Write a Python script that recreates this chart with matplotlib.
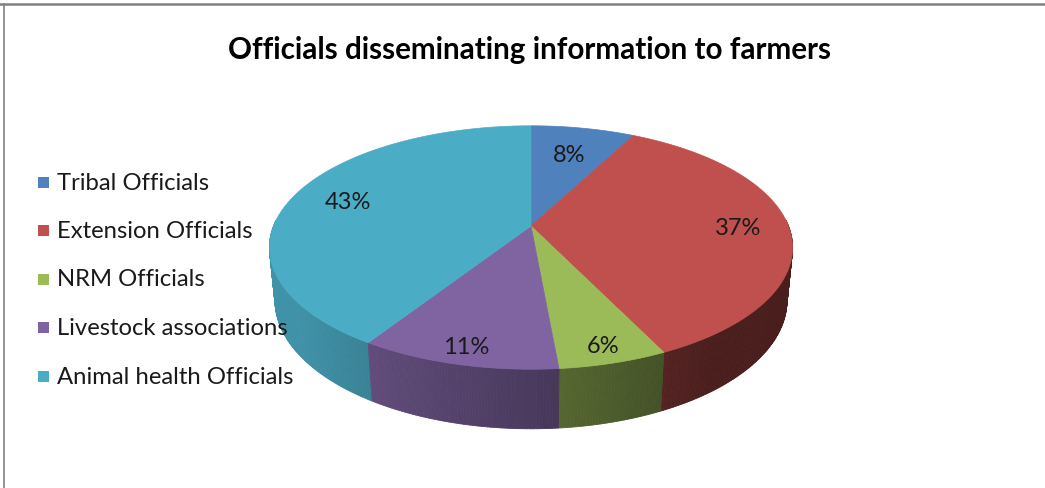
import numpy as np
import matplotlib
matplotlib.use("Agg")
import matplotlib.pyplot as plt
from matplotlib.collections import PolyCollection
from matplotlib.patches import Polygon, Rectangle
from matplotlib.lines import Line2D
from matplotlib.colors import to_rgb

# ---- data ----
categories = ["Tribal Officials", "Extension Officials", "NRM Officials",
              "Livestock associations", "Animal health Officials"]
shares = [8, 37, 6, 11, 43]
colors = ["#4F81BD", "#C0504D", "#9BBB59", "#8064A2", "#4BACC6"]
title = "Officials disseminating information to farmers"

# ---- figure in pixel-like data coordinates ----
W, H = 1045, 489
fig = plt.figure(figsize=(W / 100, H / 100), dpi=100)
ax = fig.add_axes([0, 0, 1, 1])
ax.set_xlim(0, W)
ax.set_ylim(H, 0)
ax.axis("off")

# ---- perspective camera for the 3D pie ----
cx, cy = 531.0, 227.0          # screen position of the pie centre
focal = 1295.0
dist = 5.03
tilt = np.arcsin(0.458)
s_t, c_t = np.sin(tilt), np.cos(tilt)
thick = 0.233


def project(x, y, z):
    depth = dist + y * c_t - z * s_t
    u = focal * x / depth
    v = focal * (y * s_t + z * c_t) / depth
    return cx + u, cy - v


def rim(a, z=0.0, r=1.0):
    return project(r * np.sin(a), r * np.cos(a), z)


fractions = np.array(shares, dtype=float) / np.sum(shares)
bounds = np.concatenate([[0], np.cumsum(fractions)]) * 2 * np.pi


def shade(base, xpos):
    k = np.clip(0.58 - 0.33 * xpos, 0.38, 0.85)
    return tuple(np.array(to_rgb(base)) * k)


# side wall strips, painted far-to-near
quads, qcols, qdepth = [], [], []
for i, col in enumerate(colors):
    a_s = np.linspace(bounds[i], bounds[i + 1], max(4, int(shares[i] * 6)))
    for a0, a1 in zip(a_s[:-1], a_s[1:]):
        am = 0.5 * (a0 + a1)
        if np.cos(am) > 0.05:
            continue
        p0 = rim(a0); p1 = rim(a1)
        p2 = rim(a1, -thick); p3 = rim(a0, -thick)
        quads.append([p0, p1, p2, p3])
        qcols.append(shade(col, np.sin(am)))
        qdepth.append(np.cos(am))
order = np.argsort(qdepth)[::-1]
side = PolyCollection([quads[j] for j in order],
                      facecolors=[qcols[j] for j in order],
                      edgecolors=[qcols[j] for j in order], linewidths=0.6)
ax.add_collection(side)

# top faces
for i, col in enumerate(colors):
    a_s = np.linspace(bounds[i], bounds[i + 1], max(8, int(shares[i] * 8)))
    pts = [(cx, cy)] + [rim(a) for a in a_s]
    ax.add_patch(Polygon(pts, closed=True, facecolor=col, edgecolor=col,
                         linewidth=0.5))

# percentage labels
for i in range(len(shares)):
    am = 0.5 * (bounds[i] + bounds[i + 1])
    ex, ey = rim(am)
    frac = 0.8 - 0.075 * np.cos(am)
    lx = cx + frac * (ex - cx)
    ly = cy + frac * (ey - cy)
    ax.text(lx, ly, f"{shares[i]}%", ha="center", va="center",
            fontsize=17, family="Lato", color="#1a1a1a")

# title
ax.text(530, 50, title, ha="center", va="center", fontsize=21.3,
        family="Lato", fontweight="bold", color="black")

# legend
for i, (lab, col) in enumerate(zip(categories, colors)):
    yy = 183 + i * 48.5
    ax.add_patch(Rectangle((38, yy - 5.5), 11, 11, facecolor=col,
                           edgecolor="none"))
    ax.text(57, yy, lab, ha="left", va="center", fontsize=17.2,
            family="Lato", color="#1a1a1a")

# chart-area border (top and left edges)
fig.add_artist(Line2D([0, 1], [1 - 5 / H, 1 - 5 / H], color="#808080",
                      lw=1.8, transform=fig.transFigure))
fig.add_artist(Line2D([4 / W, 4 / W], [0, 1 - 5 / H], color="#808080",
                      lw=1.2, transform=fig.transFigure))

fig.savefig("out.png", dpi=100, facecolor="white")
